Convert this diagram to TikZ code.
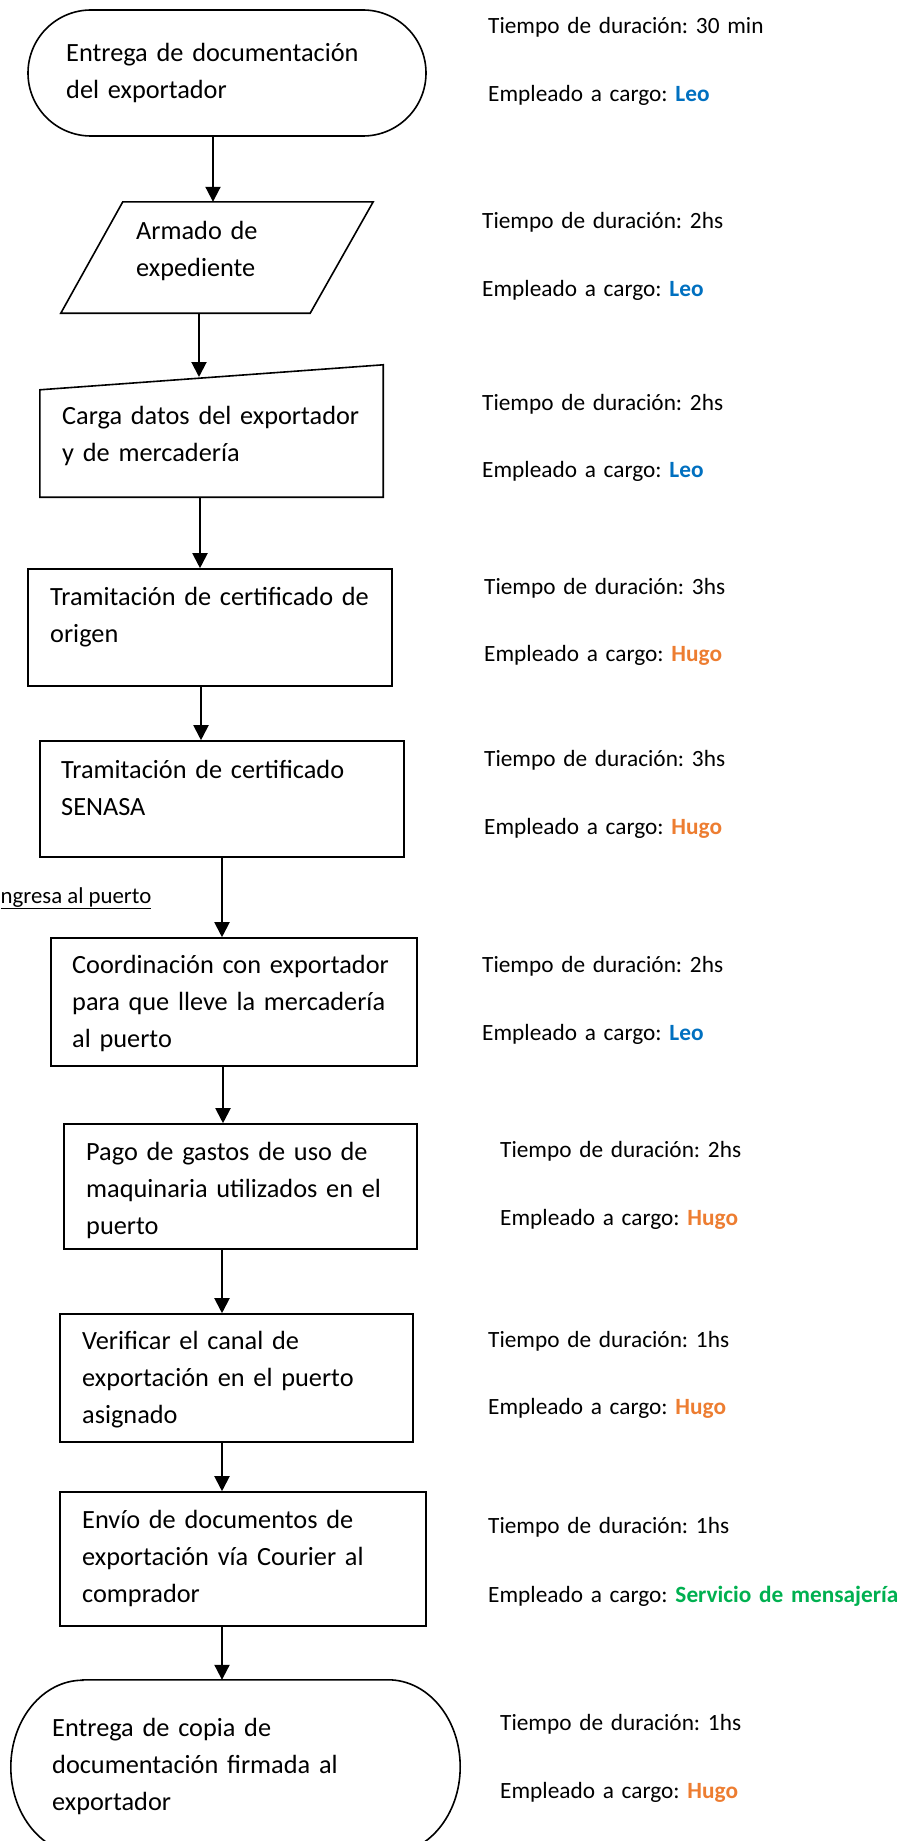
\documentclass[tikz,border=0pt]{standalone}
\usepackage{fontspec}
\setmainfont{Carlito}
\usetikzlibrary{arrows.meta}

\definecolor{azulleo}{HTML}{0070C0}
\definecolor{naranjahugo}{HTML}{ED7D31}
\definecolor{verdemsj}{HTML}{00B050}
\newcommand{\leo}{\textcolor{azulleo}{\textbf{Leo}}}
\newcommand{\hugo}{\textcolor{naranjahugo}{\textbf{Hugo}}}
\newcommand{\mensajeria}{\textcolor{verdemsj}{\textbf{Servicio de mensajería}}}
\frenchspacing

\begin{document}
\begin{tikzpicture}[x=1pt,y=-1pt,
  caja/.style={draw, line width=1.6pt, inner sep=0},
  hueco/.style={inner sep=0},
  texto/.style={anchor=base west, align=left, inner sep=0, text width=360pt,
    font=\fontsize{26.3}{37}\selectfont},
  dato/.style={anchor=base west, align=left, inner sep=0, text width=430pt,
    font=\fontsize{23.3}{37}\selectfont},
  flecha/.style={line width=2pt, -{Triangle[width=15pt,length=15pt]}}]
\useasboundingbox (0,0) rectangle (911,1841);

% columna de pasos
\node[caja, rounded corners=63pt, minimum width=398, minimum height=126] (ent) at (227,73) {};
\node[texto] at (66,62) {Entrega de documentación\\del exportador};

\node[hueco, minimum width=312, minimum height=111] (arm) at (217,257.5) {};
\draw[line width=1.6pt] ([xshift=62pt]arm.north west) -- (arm.north east)
  -- ([xshift=-63pt]arm.south east) -- (arm.south west) -- cycle;
\node[texto] at (136,239) {Armado de\\expediente};

\node[hueco, minimum width=343, minimum height=132] (carga) at (211.5,431) {};
\draw[line width=1.6pt] ([yshift=-25pt]carga.north west) -- (carga.north east)
  -- (carga.south east) -- (carga.south west) -- cycle;
\node[texto] at (62,424) {Carga datos del exportador\\y de mercadería};

\node[caja, minimum width=364, minimum height=117] (tram1) at (210,627.5) {};
\node[texto] at (50,605) {Tramitación de certificado de\\origen};

\node[caja, minimum width=364, minimum height=116] (tram2) at (222,799) {};
\node[texto] at (61,778) {Tramitación de certificado\\SENASA};

\node[anchor=base west, inner sep=0, font=\fontsize{22.8}{37}\selectfont] (puerto) at (0.5,903) {\underline{ngresa al puerto}};

\node[caja, minimum width=366, minimum height=128] (coord) at (234,1002) {};
\node[texto] at (72,973) {Coordinación con exportador\\para que lleve la mercadería\\al puerto};

\node[caja, minimum width=353, minimum height=125] (pago) at (240.5,1186.5) {};
\node[texto] at (86,1160) {Pago de gastos de uso de\\maquinaria utilizados en el\\puerto};

\node[caja, minimum width=353, minimum height=128] (verif) at (236.5,1378) {};
\node[texto] at (82,1349) {Verificar el canal de\\exportación en el puerto\\asignado};

\node[caja, minimum width=366, minimum height=134] (envio) at (243,1559) {};
\node[texto] at (82,1528) {Envío de documentos de\\exportación vía Courier al\\comprador};

\node[hueco, minimum width=449, minimum height=174] (fin) at (235.5,1767) {};
\draw[line width=1.6pt] ([xshift=72pt]fin.north west) -- ([xshift=-72pt]fin.north east)
  arc[start angle=90, end angle=-90, x radius=72pt, y radius=87pt]
  -- ([xshift=72pt]fin.south west)
  arc[start angle=270, end angle=90, x radius=72pt, y radius=87pt] -- cycle;
\node[texto] at (52,1736) {Entrega de copia de\\documentación firmada al\\exportador};

% flechas
\coordinate (cargatop) at (199,377);
\draw[flecha] (213,0 |- ent.south) -- (213,0 |- arm.north);
\draw[flecha] (199,0 |- arm.south) -- (cargatop);
\draw[flecha] (200,0 |- carga.south) -- (200,0 |- tram1.north);
\draw[flecha] (201,0 |- tram1.south) -- (201,0 |- tram2.north);
\draw[flecha] (222,0 |- tram2.south) -- (222,0 |- coord.north);
\draw[flecha] (223,0 |- coord.south) -- (223,0 |- pago.north);
\draw[flecha] (222,0 |- pago.south) -- (222,0 |- verif.north);
\draw[flecha] (222,0 |- verif.south) -- (222,0 |- envio.north);
\draw[flecha] (222,0 |- envio.south) -- (222,0 |- fin.north);

% tiempos y empleados
\node[dato] (d1) at (488,34) {Tiempo de duración: 30 min\\[31pt]Empleado a cargo: \leo};
\node[dato] (d2) at (482,228) {Tiempo de duración: 2hs\\[31pt]Empleado a cargo: \leo};
\node[dato] (d3) at (482,410) {Tiempo de duración: 2hs\\[30pt]Empleado a cargo: \leo};
\node[dato] (d4) at (484,594) {Tiempo de duración: 3hs\\[30pt]Empleado a cargo: \hugo};
\node[dato] (d5) at (484,766) {Tiempo de duración: 3hs\\[31pt]Empleado a cargo: \hugo};
\node[dato] (d6) at (482,972) {Tiempo de duración: 2hs\\[31pt]Empleado a cargo: \leo};
\node[dato] (d7) at (500,1157) {Tiempo de duración: 2hs\\[31pt]Empleado a cargo: \hugo};
\node[dato] (d8) at (488,1347) {Tiempo de duración: 1hs\\[30pt]Empleado a cargo: \hugo};
\node[dato] (d9) at (488,1533) {Tiempo de duración: 1hs\\[32pt]Empleado a cargo: \mensajeria};
\node[dato] (d10) at (500,1730) {Tiempo de duración: 1hs\\[31pt]Empleado a cargo: \hugo};
\end{tikzpicture}
\end{document}
